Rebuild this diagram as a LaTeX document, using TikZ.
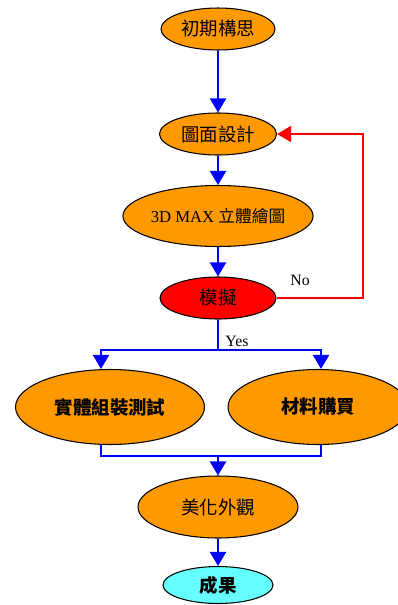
\documentclass[tikz,border=0pt]{standalone}
\usepackage{fontspec}
\setmainfont{Liberation Serif}
\newfontfamily\cjk{Noto Sans CJK TC}
\usetikzlibrary{shapes,arrows.meta}
\definecolor{orangeA}{RGB}{255,153,0}
\definecolor{cyanA}{RGB}{102,255,255}
\tikzstyle{noeud}=[ellipse,draw,line width=0.6pt,inner sep=0pt,
fill=orangeA,text=black,font=\cjk\fontsize{10.5}{12}\selectfont]
\tikzstyle{noeud1}=[noeud,fill=red]
\tikzstyle{noeud2}=[noeud,fill=cyanA,font=\cjk\fontsize{10.5}{12}\selectfont\bfseries]
\tikzstyle{fleche}=[draw=blue,line width=1.7pt,-{Triangle[width=9pt,length=8pt]}]
\tikzstyle{ligne}=[draw=blue,line width=1.7pt]
\tikzstyle{retour}=[draw=red,line width=1.2pt,-{Triangle[width=9pt,length=8pt]}]

\begin{document}
\begin{tikzpicture}[x=0.02cm,y=-0.02cm]
      \useasboundingbox (0,0) rectangle (398,605);
      \node[noeud,minimum width=2.28cm,minimum height=0.84cm] (I) at (218,29) {初期構思};
      \node[noeud,minimum width=2.34cm,minimum height=0.84cm] (G) at (218,134) {圖面設計};
      \node[noeud,minimum width=3.74cm,minimum height=1.22cm,font=\fontsize{9.5}{11}\selectfont] (M) at (218,216) {3D MAX {\cjk 立體繪圖}};
      \node[noeud1,minimum width=2.32cm,minimum height=0.84cm] (S) at (218,298) {模擬};
      \node[noeud,minimum width=3.78cm,minimum height=1.5cm,font=\cjk\fontsize{10.5}{12}\selectfont\bfseries] (T) at (110,407) {實體組裝測試};
      \node[noeud,minimum width=3.6cm,minimum height=1.5cm,font=\cjk\fontsize{10.5}{12}\selectfont\bfseries] (A) at (318,407) {材料購買};
      \node[noeud,minimum width=3.2cm,minimum height=1.24cm] (B) at (218,507) {美化外觀};
      \node[noeud2,minimum width=2.2cm,minimum height=0.74cm] (R) at (218,585) {成果};
      \coordinate (hb) at (218,350);
      \coordinate (hg) at (101,350);
      \coordinate (hd) at (321,350);
      \coordinate (bg) at (101,456);
      \coordinate (bd) at (321,456);
      \coordinate (bm) at (218,456);
      \coordinate (rd) at (363,298);

      \draw[fleche] (I) -- (G);
      \draw[fleche] (G) -- (M);
      \draw[fleche] (M) -- (S);
      \draw[retour] (S.east) -- (rd) |- (G.east);
      \node[font=\small] (no) at (300,280) {No};
      \draw[ligne] (S) -- (hb);
      \node[font=\small] (yes) at (237,341) {Yes};
      \draw[fleche] (hb) -- (hg) -- (hg |- T.north);
      \draw[fleche] (hb) -- (hd) -- (hd |- A.north);
      \draw[ligne] (bg |- T.south) -- (bg) -- (bd) -- (bd |- A.south);
      \draw[fleche] (bm) -- (B);
      \draw[fleche] (B) -- (R);
\end{tikzpicture}
\end{document}
